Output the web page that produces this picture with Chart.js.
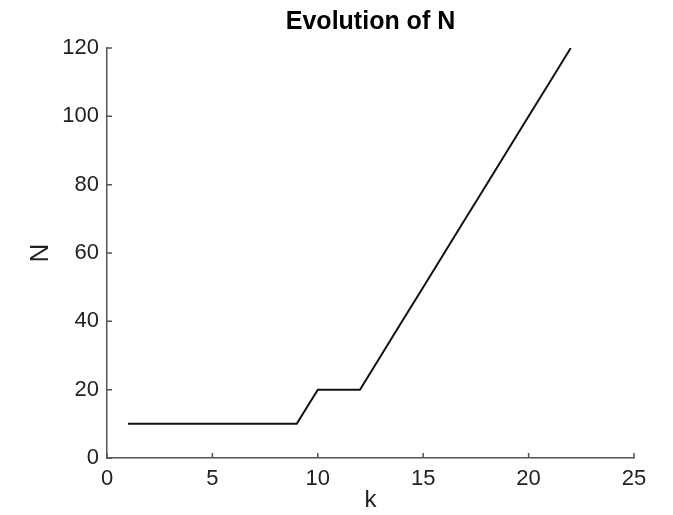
<!DOCTYPE html>
<html>
<head>
<meta charset="utf-8">
<script src="https://cdn.jsdelivr.net/npm/chart.js@4.4.1/dist/chart.umd.min.js"></script>
<style>
  html, body { margin: 0; padding: 0; background: #fff; }
  #wrap { width: 673px; height: 515px; }
</style>
</head>
<body>
<div id="wrap"><canvas id="myChart"></canvas></div>
<script>
// data
const kValues = [1, 2, 3, 4, 5, 6, 7, 8, 9, 10, 11, 12, 13, 14, 15, 16, 17, 18, 19, 20, 21, 22];
const nValues = [10, 10, 10, 10, 10, 10, 10, 10, 10, 20, 20, 20, 30, 40, 50, 60, 70, 80, 90, 100, 110, 120];
const xTicks = [0, 5, 10, 15, 20, 25];
const yTicks = [0, 20, 40, 60, 80, 100, 120];

const axisColor = '#555';
const fontFamily = '"Liberation Sans", Arial, Helvetica, sans-serif';

// matlab style ticks pointing into the plot
const innerTicks = {
  id: 'innerTicks',
  afterDraw(chart) {
    const ctx = chart.ctx;
    const x = chart.scales.x, y = chart.scales.y;
    const len = 5;
    ctx.save();
    ctx.strokeStyle = axisColor;
    ctx.lineWidth = 1.5;
    ctx.beginPath();
    xTicks.forEach(v => {
      const px = x.getPixelForValue(v);
      ctx.moveTo(px, y.bottom);
      ctx.lineTo(px, y.bottom - len);
    });
    yTicks.forEach(v => {
      const py = y.getPixelForValue(v);
      ctx.moveTo(x.left, py);
      ctx.lineTo(x.left + len, py);
    });
    ctx.stroke();
    ctx.restore();
  }
};

const ctx = document.getElementById('myChart').getContext('2d');
new Chart(ctx, {
  type: 'line',
  data: {
    datasets: [{
      label: 'N',
      data: kValues.map((k, i) => ({ x: k, y: nValues[i] })),
      borderColor: '#111',
      borderWidth: 2,
      pointRadius: 0,
      fill: false,
      tension: 0
    }]
  },
  options: {
    responsive: true,
    maintainAspectRatio: false,
    animation: false,
    layout: { padding: { left: 0, right: 39, top: 0, bottom: 0 } },
    plugins: {
      legend: { display: false },
      tooltip: { enabled: false },
      title: {
        display: true,
        fullSize: false,
        text: 'Evolution of N',
        color: '#000',
        font: { family: fontFamily, size: 25, weight: 'bold', lineHeight: 1.2 },
        padding: { top: 7, bottom: 11 }
      }
    },
    scales: {
      x: {
        type: 'linear',
        min: 0,
        max: 25,
        afterFit: s => { s.height = 57; },
        afterBuildTicks: s => { s.ticks = xTicks.map(v => ({ value: v })); },
        grid: { display: true, drawOnChartArea: false, drawTicks: false },
        border: { display: true, color: axisColor, width: 1.5 },
        ticks: {
          color: '#222',
          padding: 8,
          maxRotation: 0,
          font: { family: fontFamily, size: 22 }
        },
        title: {
          display: true,
          text: 'k',
          color: '#222',
          font: { family: fontFamily, size: 24, lineHeight: 1.2 },
          padding: { top: 0, bottom: 0 }
        }
      },
      y: {
        min: 0,
        max: 120,
        afterFit: s => { s.width = 107; },
        afterBuildTicks: s => { s.ticks = yTicks.map(v => ({ value: v })); },
        grid: { display: true, drawOnChartArea: false, drawTicks: false },
        border: { display: true, color: axisColor, width: 1.5 },
        ticks: {
          color: '#222',
          padding: 8,
          font: { family: fontFamily, size: 22 }
        },
        title: {
          display: true,
          text: 'N',
          color: '#222',
          font: { family: fontFamily, size: 26, lineHeight: 1.2 },
          padding: { top: 25, bottom: 0 }
        }
      }
    }
  },
  plugins: [innerTicks]
});
</script>
</body>
</html>
